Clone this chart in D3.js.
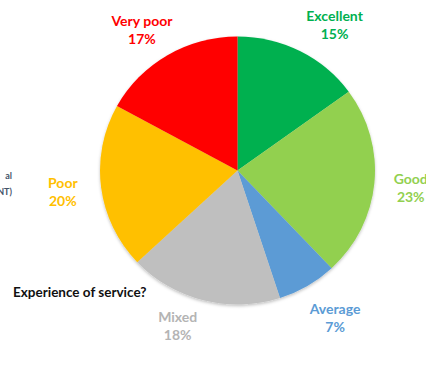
<!DOCTYPE html>
<html>
<head>
<meta charset="utf-8">
<script src="https://cdn.jsdelivr.net/npm/d3@7"></script>
<style>
  html, body { margin: 0; padding: 0; background: #fff; }
  svg { display: block; }
  text { font-family: Lato, "Open Sans", sans-serif; font-weight: 700; }
</style>
</head>
<body>
<div id="chart"></div>
<script>
// slices, clockwise from 12 o'clock
const categories = ["Excellent", "Good", "Average", "Mixed", "Poor", "Very poor"];
const values = [15, 23, 7, 18, 20, 17];
const colors = ["#00B050", "#92D050", "#5B9BD5", "#BFBFBF", "#FFC000", "#FF0000"];
const labelColors = ["#00B050", "#92D050", "#5B9BD5", "#B4B4B4", "#FFC000", "#FF0000"];
// nudges off the label arc (Excel best fit placement)
const nudges = [[19, 8], [2, 1], [10, -1], [-17, -11], [-4, 0], [-8, 8]];

const width = 426, height = 375;
const cx = 237.5, cy = 170.5;
const rx = 137.5, ry = 134;

const svg = d3.select("#chart").append("svg")
  .attr("width", width)
  .attr("height", height);

const defs = svg.append("defs");
const shadow = defs.append("filter").attr("id", "shadow")
  .attr("x", "-10%").attr("y", "-10%").attr("width", "120%").attr("height", "125%");
shadow.append("feDropShadow")
  .attr("dx", 0).attr("dy", 1.5).attr("stdDeviation", 1.8)
  .attr("flood-color", "#000").attr("flood-opacity", 0.25);

const data = categories.map((c, i) => ({ name: c, value: values[i], i }));

const pie = d3.pie().sort(null).value(d => d.value);
const arcs = pie(data);

const arc = d3.arc().innerRadius(0).outerRadius(rx);
const labelArc = d3.arc().innerRadius(172).outerRadius(172);

const g = svg.append("g")
  .attr("transform", `translate(${cx},${cy}) scale(1,${ry / rx})`)
  .attr("filter", "url(#shadow)");

g.selectAll("path")
  .data(arcs)
  .enter().append("path")
    .attr("d", arc)
    .attr("fill", d => colors[d.data.i]);

// labels: name + percent, two lines
const total = d3.sum(values);
const labels = svg.append("g").attr("transform", `translate(${cx},${cy})`);
arcs.forEach(d => {
  const [x, y] = labelArc.centroid(d);
  const [nx, ny] = nudges[d.data.i];
  const t = labels.append("text")
    .attr("text-anchor", "middle")
    .attr("font-size", "14px")
    .attr("fill", labelColors[d.data.i])
    .attr("transform", `translate(${x + nx},${y + ny - 4})`);
  t.append("tspan").attr("x", 0).attr("y", 0).text(d.data.name);
  t.append("tspan").attr("x", 0).attr("y", 18)
    .text(Math.round(d.data.value / total * 100) + "%");
});

svg.append("text")
  .attr("x", 13).attr("y", 297)
  .attr("font-size", "13.5px")
  .attr("fill", "#111")
  .text("Experience of service?");

// clipped text from a neighbouring chart on the left edge
const side = svg.append("g")
  .attr("font-size", "9px")
  .attr("fill", "#44546A")
  .attr("text-anchor", "end");
side.append("text").attr("x", 12).attr("y", 179).text("al");
side.append("text").attr("x", 12).attr("y", 195).text("NT)");
</script>
</body>
</html>
